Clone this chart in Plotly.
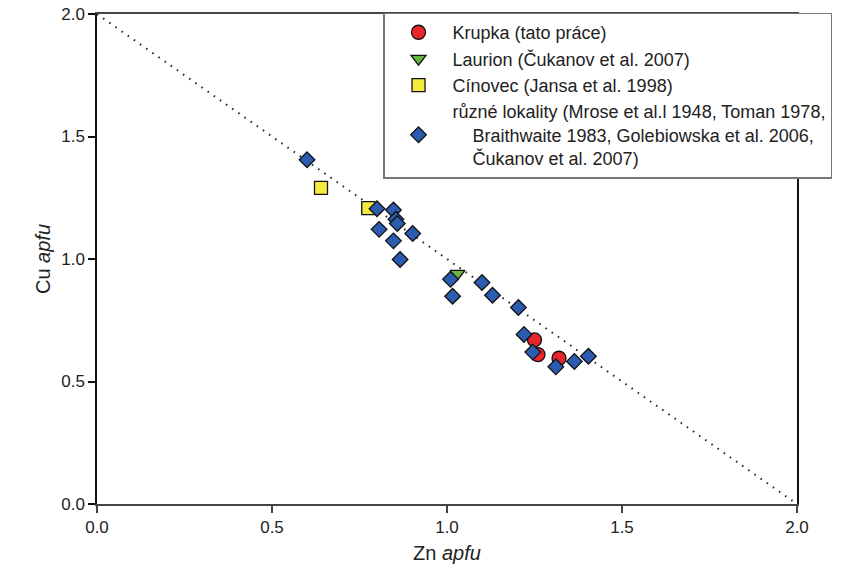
import plotly.graph_objects as go

# Krupka (tato práce)
krupka_zn = [1.25, 1.26, 1.32]
krupka_cu = [0.67, 0.61, 0.595]

# Laurion (Čukanov et al. 2007)
laurion_zn = [1.03]
laurion_cu = [0.94]

# Cínovec (Jansa et al. 1998)
cinovec_zn = [0.64, 0.775]
cinovec_cu = [1.29, 1.208]

# různé lokality
ruzne_zn = [0.60, 0.80, 0.847, 0.854, 0.858, 0.806, 0.902, 0.847, 0.866,
            1.01, 1.016, 1.10, 1.13, 1.204, 1.22, 1.245, 1.311, 1.364, 1.404]
ruzne_cu = [1.405, 1.205, 1.20, 1.162, 1.145, 1.121, 1.104, 1.074, 0.998,
            0.917, 0.848, 0.904, 0.852, 0.802, 0.692, 0.62, 0.56, 0.582, 0.603]

# 1:1 line Zn + Cu = 2
line_zn = [0.0, 2.0]
line_cu = [2.0, 0.0]

tick_vals = [0, 0.5, 1.0, 1.5, 2.0]
tick_text = ["0.0", "0.5", "1.0", "1.5", "2.0"]

names = [
    "Krupka (tato práce)",
    "Laurion (Čukanov et al. 2007)",
    "Cínovec (Jansa et al. 1998)",
    "různé lokality (Mrose et al.l 1948, Toman 1978,<br>"
    "\u00a0\u00a0\u00a0\u00a0Braithwaite 1983, Golebiowska et al. 2006,<br>"
    "\u00a0\u00a0\u00a0\u00a0Čukanov et al. 2007)",
]

fig = go.Figure()
fig.add_trace(go.Scatter(x=line_zn, y=line_cu, mode="lines",
                         line=dict(color="#222", width=2, dash="1.5px,6px"),
                         showlegend=False, hoverinfo="skip"))

mline = dict(color="#111", width=1.3)
fig.add_trace(go.Scatter(x=krupka_zn, y=krupka_cu, mode="markers", name=names[0],
                         marker=dict(symbol="circle", size=14, color="#e8262c", line=mline)))
fig.add_trace(go.Scatter(x=laurion_zn, y=laurion_cu, mode="markers", name=names[1],
                         marker=dict(symbol="triangle-down", size=13, color="#66b53c", line=mline)))
fig.add_trace(go.Scatter(x=cinovec_zn, y=cinovec_cu, mode="markers", name=names[2],
                         marker=dict(symbol="square", size=13, color="#f6eb3d", line=mline)))
fig.add_trace(go.Scatter(x=ruzne_zn, y=ruzne_cu, mode="markers", name=names[3],
                         marker=dict(symbol="diamond", size=12, color="#2b5cb0", line=mline)))

font_family = "Liberation Sans, Arial, sans-serif"
fig.update_layout(
    width=861, height=564,
    margin=dict(l=97, r=64, t=14, b=60),
    paper_bgcolor="white", plot_bgcolor="white",
    font=dict(family=font_family, size=17, color="#222"),
    showlegend=True,
    legend=dict(x=0.4086, y=1.003, xanchor="left", yanchor="top",
                bgcolor="white", bordercolor="#777", borderwidth=1.5,
                font=dict(size=18, color="#222"), itemwidth=58,
                tracegroupgap=0),
    xaxis=dict(range=[0, 2.0], tickvals=tick_vals, ticktext=tick_text,
               showgrid=False, zeroline=False, showline=True, linecolor="#444",
               linewidth=1.5, mirror=True, ticks="outside", ticklen=7,
               tickcolor="#444", tickwidth=1.5, ticklabeloverflow="allow",
               automargin=False,
               title=dict(text="Zn <i>apfu</i>", font=dict(size=20), standoff=17)),
    yaxis=dict(range=[0, 2.0], tickvals=tick_vals, ticktext=tick_text,
               showgrid=False, zeroline=False, showline=True, linecolor="#111",
               linewidth=1.5, mirror=True, ticks="outside", ticklen=7,
               tickcolor="#111", tickwidth=1.5, ticklabeloverflow="allow",
               automargin=False,
               title=dict(text="Cu <i>apfu</i>", font=dict(size=20), standoff=5)),
)

fig.write_html("out.html", config={"displayModeBar": False},
               post_script="document.body.style.margin='0px';document.body.style.padding='0px';")
